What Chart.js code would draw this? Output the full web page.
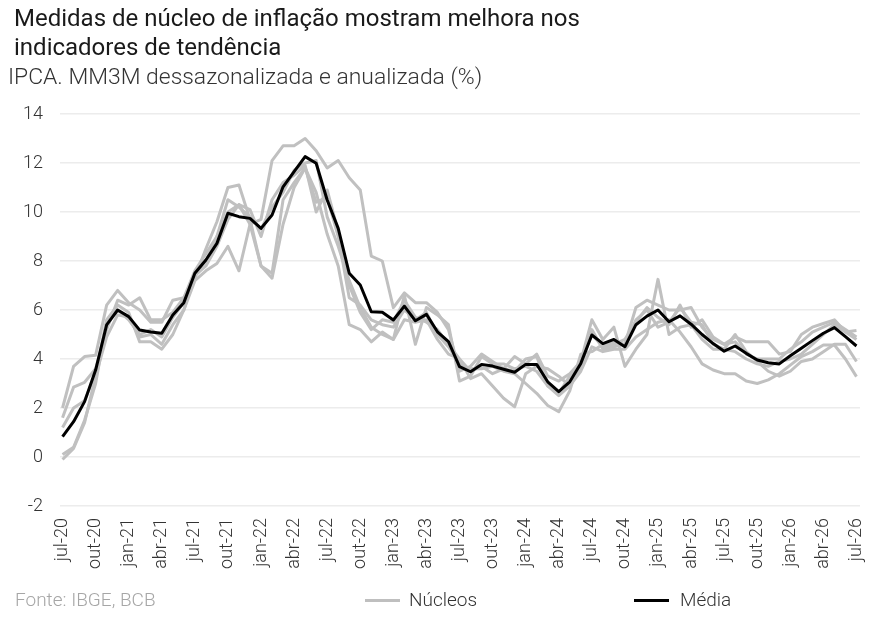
<!DOCTYPE html>
<html>
<head>
<meta charset="utf-8">
<script src="https://cdn.jsdelivr.net/npm/chart.js@4.4.1/dist/chart.umd.min.js"></script>
<style>
  html,body{margin:0;padding:0;background:#fff;}
  body{width:884px;height:620px;position:relative;overflow:hidden;font-family:Roboto,"Noto Sans",sans-serif;}
  #wrap{position:absolute;left:0;top:0;width:884px;height:620px;}
  .t{position:absolute;white-space:nowrap;}
  #title{left:14px;top:4px;font-size:24px;line-height:29px;color:#1a1a1a;font-weight:400;}
  #sub{left:8px;top:63px;font-size:22.9px;line-height:28px;color:#333;font-weight:300;}
  #src{left:15px;top:588px;font-size:19px;color:#a6a6a6;font-weight:300;}
  .lg{position:absolute;top:588px;font-size:19px;color:#333;font-weight:300;}
  .sw{position:absolute;top:599px;height:3px;width:35px;}
</style>
</head>
<body>
<div id="wrap"><canvas id="c" width="884" height="620"></canvas></div>
<div class="t" id="title">Medidas de núcleo de inflação mostram melhora nos<br>indicadores de tendência</div>
<div class="t" id="sub">IPCA. MM3M dessazonalizada e anualizada (%)</div>
<div class="t" id="src">Fonte: IBGE, BCB</div>
<div class="sw" style="left:365px;background:#bfbfbf"></div>
<div class="lg" style="left:409px">Núcleos</div>
<div class="sw" style="left:634px;background:#000"></div>
<div class="lg" style="left:680px">Média</div>
<script>
// Months jul-20 .. jul-26
const months = ['jul-20','ago-20','set-20','out-20','nov-20','dez-20','jan-21','fev-21','mar-21','abr-21','mai-21','jun-21',
 'jul-21','ago-21','set-21','out-21','nov-21','dez-21','jan-22','fev-22','mar-22','abr-22','mai-22','jun-22',
 'jul-22','ago-22','set-22','out-22','nov-22','dez-22','jan-23','fev-23','mar-23','abr-23','mai-23','jun-23',
 'jul-23','ago-23','set-23','out-23','nov-23','dez-23','jan-24','fev-24','mar-24','abr-24','mai-24','jun-24',
 'jul-24','ago-24','set-24','out-24','nov-24','dez-24','jan-25','fev-25','mar-25','abr-25','mai-25','jun-25',
 'jul-25','ago-25','set-25','out-25','nov-25','dez-25','jan-26','fev-26','mar-26','abr-26','mai-26','jun-26','jul-26'];

const yTicks = [-2,0,2,4,6,8,10,12,14];

const media = [0.83,1.44,2.26,3.55,5.39,6.0,5.73,5.18,5.1,5.05,5.8,6.3,
 7.5,8.04,8.72,9.95,9.81,9.74,9.33,9.88,11.03,11.65,12.26,11.99,
 10.49,9.33,7.5,7.02,5.93,5.91,5.59,6.16,5.56,5.82,5.11,4.71,
 3.69,3.48,3.78,3.71,3.58,3.46,3.78,3.78,3.07,2.67,3.07,3.82,
 4.98,4.63,4.80,4.50,5.40,5.75,6.0,5.52,5.76,5.42,5.0,4.63,
 4.32,4.53,4.23,3.96,3.85,3.80,4.13,4.44,4.75,5.05,5.28,4.91,4.53];

const nucleo1 = [2.0,3.7,4.1,4.15,6.2,6.8,6.3,6.0,5.5,5.5,6.4,6.5,
 7.6,8.3,9.0,10.0,10.3,9.5,9.7,12.1,12.7,12.7,13.0,12.5,
 11.8,12.1,11.4,10.9,8.2,8.0,6.1,6.7,6.3,6.3,5.9,5.2,
 3.5,3.7,4.2,3.9,3.6,4.1,3.8,4.2,3.3,3.1,3.4,3.9,
 5.6,4.8,5.3,3.7,4.4,5.0,7.25,5.0,5.3,5.4,4.8,4.4,
 4.4,5.0,4.3,3.9,3.5,3.3,3.5,3.9,4.0,4.3,4.6,4.6,3.9];

const nucleo2 = [1.6,2.85,3.05,3.6,5.2,6.4,6.2,6.5,5.6,5.6,5.9,6.5,
 7.3,8.5,9.6,11.0,11.1,9.7,7.8,7.3,9.5,11.0,11.8,10.8,
 9.1,7.8,5.4,5.2,4.7,5.1,4.8,6.6,4.6,6.1,5.8,5.4,
 3.1,3.3,4.1,3.8,3.8,3.6,3.7,3.5,2.9,2.5,2.9,3.6,
 5.2,4.4,4.5,4.6,6.1,6.4,6.2,6.0,6.0,6.1,5.3,4.8,
 4.6,4.9,4.7,4.7,4.7,4.2,4.3,5.0,5.3,5.45,5.6,5.1,5.16];

const nucleo3 = [1.2,2.0,2.3,3.4,5.6,6.2,5.9,4.7,4.7,4.4,5.0,6.0,
 7.5,8.0,9.0,10.5,10.2,9.8,9.3,10.2,10.8,11.7,12.0,12.1,
 9.8,8.6,7.2,6.1,5.3,5.0,4.8,5.6,5.5,5.6,4.8,4.2,
 4.0,3.2,3.4,2.9,2.4,2.05,3.4,3.7,3.6,3.3,2.9,3.5,
 4.5,4.3,4.4,4.4,4.9,5.2,5.5,5.6,5.1,4.5,3.8,3.55,
 3.4,3.4,3.1,3.0,3.15,3.4,3.75,4.1,4.3,4.57,4.57,4.0,3.28];

const nucleo4 = [-0.1,0.35,1.4,3.3,4.9,5.8,5.7,4.9,5.0,4.6,5.4,6.0,
 7.2,7.6,7.9,8.6,7.6,9.5,7.8,7.5,10.5,11.2,11.8,10.4,
 10.6,9.0,6.5,6.2,5.6,5.4,5.3,6.0,5.6,5.9,5.0,4.5,
 3.8,3.6,3.6,3.7,3.5,3.4,3.0,2.6,2.1,1.85,2.7,4.2,
 4.3,4.6,4.7,4.6,5.6,6.0,5.3,5.5,6.1,5.5,5.4,4.6,
 4.4,4.3,4.0,3.8,3.7,3.9,4.0,4.2,4.6,5.0,5.4,5.1,4.8];

const nucleo5 = [0.1,0.4,1.5,3.0,5.5,6.0,5.6,5.0,5.2,4.9,5.7,6.3,
 7.4,7.8,8.6,9.7,10.3,10.1,9.0,10.5,11.2,11.5,11.9,10.0,
 10.9,9.2,7.0,5.9,5.2,5.6,5.5,6.4,5.7,5.5,5.2,4.6,
 4.0,3.5,3.7,3.4,3.6,3.5,4.0,4.1,2.9,2.6,3.3,3.9,
 5.0,4.5,4.6,4.8,5.5,6.1,5.7,5.4,6.2,5.3,5.6,4.9,
 4.6,4.7,4.2,4.0,4.0,4.0,4.4,4.7,5.1,5.3,5.5,5.2,4.9];

const nucleos = [nucleo1,nucleo2,nucleo3,nucleo4,nucleo5];
const toXY = arr => arr.map((v,i)=>({x:i,y:v}));

const datasets = [{
  label:'Média', data:toXY(media), borderColor:'#000', borderWidth:3,
  pointRadius:0, tension:0, order:0, borderJoinStyle:'round'
}];
nucleos.forEach((n,k)=>datasets.push({
  label:'Núcleos', data:toXY(n), borderColor:'#c0c0c0', borderWidth:3,
  pointRadius:0, tension:0, order:1, borderJoinStyle:'round'
}));

new Chart(document.getElementById('c'), {
  type:'line',
  data:{datasets},
  options:{
    responsive:false, animation:false,
    layout:{padding:{left:0,right:24,top:114,bottom:0}},
    plugins:{legend:{display:false},tooltip:{enabled:false},title:{display:false}},
    scales:{
      x:{
        type:'linear', min:-0.23, max:72.32,
        grid:{display:false, drawTicks:false}, border:{display:false},
        afterBuildTicks:s=>{ s.ticks = months.map((m,i)=>i).filter(i=>i%3===0).map(v=>({value:v})); },
        afterFit:s=>{ s.height = 114; s.paddingLeft = 0; s.paddingRight = 0; },
        ticks:{autoSkip:false, minRotation:90, maxRotation:90, padding:12,
          color:'#333', font:{family:'Roboto', size:18, weight:'300'},
          callback:v=>months[v]}
      },
      y:{
        min:-2, max:14,
        afterBuildTicks:s=>{ s.ticks = yTicks.map(v=>({value:v})); },
        afterFit:s=>{ s.width = 60; },
        grid:{color:'#ececec', lineWidth:1.5, drawTicks:false}, border:{display:false},
        ticks:{padding:17, color:'#333', font:{family:'Roboto', size:18, weight:'300'}}
      }
    }
  }
});
</script>
</body>
</html>
